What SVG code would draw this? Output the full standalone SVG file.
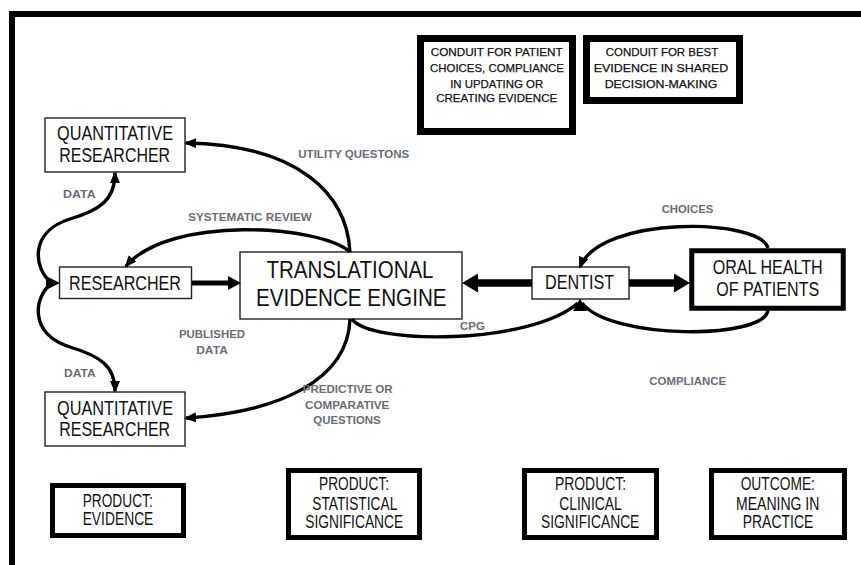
<svg xmlns="http://www.w3.org/2000/svg" width="861" height="565" viewBox="0 0 861 565">
<defs>
<style>
.frame{fill:none;stroke:#000;stroke-width:6}
.thin{fill:#fff;stroke:#222;stroke-width:1.4}
.bold7{fill:#fff;stroke:#000;stroke-width:7}
.bold5{fill:#fff;stroke:#000;stroke-width:5}
.t{font-family:"Liberation Sans Narrow","Arial Narrow","Liberation Sans",Arial,sans-serif;fill:#111;text-anchor:middle}
.sm{stroke:#111;stroke-width:0.25}
.lbl{font-family:"Liberation Sans",Arial,sans-serif;font-weight:bold;font-size:11.5px;fill:#6a6d75;text-anchor:middle}
.cur{fill:none;stroke:#000;stroke-width:3.4}
.thick{fill:none;stroke:#000}
.head{fill:#000;stroke:none}
</style>
<marker id="ah" markerUnits="userSpaceOnUse" viewBox="0 0 12 10" refX="10" refY="5" markerWidth="12" markerHeight="10" orient="auto-start-reverse">
<path d="M0,0 L12,5 L0,10 Z" fill="#000"/>
</marker>
</defs>
<rect width="861" height="565" fill="#fff"/>
<path class="frame" d="M12,565 V14 H861"/>

<g id="conduit-patient">
<rect class="bold7" x="420.5" y="38.5" width="152" height="93"/>
<text class="t sm" font-size="11.6" x="496.7" y="56" textLength="132" lengthAdjust="spacingAndGlyphs">CONDUIT FOR PATIENT</text>
<text class="t sm" font-size="11.6" x="497" y="72" textLength="134" lengthAdjust="spacingAndGlyphs">CHOICES, COMPLIANCE</text>
<text class="t sm" font-size="11.6" x="496.7" y="87.5" textLength="93" lengthAdjust="spacingAndGlyphs">IN UPDATING OR</text>
<text class="t sm" font-size="11.6" x="496.7" y="102" textLength="121" lengthAdjust="spacingAndGlyphs">CREATING EVIDENCE</text>
</g>
<g id="conduit-best">
<rect class="bold7" x="586.5" y="38.5" width="153" height="62"/>
<text class="t sm" font-size="11.6" x="662" y="56" textLength="112.6" lengthAdjust="spacingAndGlyphs">CONDUIT FOR BEST</text>
<text class="t sm" font-size="11.6" x="661" y="72" textLength="134.6" lengthAdjust="spacingAndGlyphs">EVIDENCE IN SHARED</text>
<text class="t sm" font-size="11.6" x="661" y="87.5" textLength="112.6" lengthAdjust="spacingAndGlyphs">DECISION-MAKING</text>
</g>

<g id="quant-top">
<rect class="thin" x="45" y="118" width="140" height="54"/>
<text class="t" font-size="19.5" x="115" y="140" textLength="116" lengthAdjust="spacingAndGlyphs">QUANTITATIVE</text>
<text class="t" font-size="19.5" x="114.7" y="162" textLength="110.7" lengthAdjust="spacingAndGlyphs">RESEARCHER</text>
</g>
<g id="researcher">
<rect class="thin" x="59.5" y="267" width="132" height="31.5"/>
<text class="t" font-size="19.5" x="125" y="289.5" textLength="112" lengthAdjust="spacingAndGlyphs">RESEARCHER</text>
</g>
<g id="quant-bottom">
<rect class="thin" x="45" y="392" width="140" height="54"/>
<text class="t" font-size="19.5" x="115" y="415" textLength="116" lengthAdjust="spacingAndGlyphs">QUANTITATIVE</text>
<text class="t" font-size="19.5" x="114.7" y="436" textLength="110.7" lengthAdjust="spacingAndGlyphs">RESEARCHER</text>
</g>
<g id="engine">
<rect class="thin" x="240" y="252" width="222" height="67"/>
<text class="t" font-size="23" x="350" y="278.3" textLength="167" lengthAdjust="spacingAndGlyphs">TRANSLATIONAL</text>
<text class="t" font-size="23" x="351.3" y="306" textLength="190.7" lengthAdjust="spacingAndGlyphs">EVIDENCE ENGINE</text>
</g>
<g id="dentist">
<rect class="thin" x="532" y="267" width="97" height="32"/>
<text class="t" font-size="19.5" x="579.5" y="289.3" textLength="69" lengthAdjust="spacingAndGlyphs">DENTIST</text>
</g>
<g id="oral-health">
<rect class="bold5" x="691.75" y="250.75" width="151.5" height="57.5" stroke-width="5.5"/>
<text class="t" font-size="19.5" x="767.7" y="274" textLength="110" lengthAdjust="spacingAndGlyphs">ORAL HEALTH</text>
<text class="t" font-size="19.5" x="767.7" y="295.7" textLength="103" lengthAdjust="spacingAndGlyphs">OF PATIENTS</text>
</g>

<g id="product-evidence">
<rect class="bold5" x="52.5" y="485.5" width="131" height="50"/>
<text class="t" font-size="17.5" x="117.7" y="506.5" textLength="70" lengthAdjust="spacingAndGlyphs">PRODUCT:</text>
<text class="t" font-size="17.5" x="118" y="525.3" textLength="70.7" lengthAdjust="spacingAndGlyphs">EVIDENCE</text>
</g>
<g id="product-statistical">
<rect class="bold5" x="288.5" y="470.5" width="131" height="67"/>
<text class="t" font-size="17.5" x="354" y="490.3" textLength="70" lengthAdjust="spacingAndGlyphs">PRODUCT:</text>
<text class="t" font-size="17.5" x="354.8" y="509.6" textLength="85" lengthAdjust="spacingAndGlyphs">STATISTICAL</text>
<text class="t" font-size="17.5" x="354.2" y="528" textLength="98" lengthAdjust="spacingAndGlyphs">SIGNIFICANCE</text>
</g>
<g id="product-clinical">
<rect class="bold5" x="524.5" y="470.5" width="132" height="67"/>
<text class="t" font-size="17.5" x="590.5" y="490.3" textLength="71" lengthAdjust="spacingAndGlyphs">PRODUCT:</text>
<text class="t" font-size="17.5" x="590.5" y="509.6" textLength="62.4" lengthAdjust="spacingAndGlyphs">CLINICAL</text>
<text class="t" font-size="17.5" x="590.2" y="528" textLength="98.3" lengthAdjust="spacingAndGlyphs">SIGNIFICANCE</text>
</g>
<g id="outcome">
<rect class="bold5" x="711.5" y="470.5" width="133" height="67"/>
<text class="t" font-size="17.5" x="777.8" y="490.3" textLength="74.3" lengthAdjust="spacingAndGlyphs">OUTCOME:</text>
<text class="t" font-size="17.5" x="777.7" y="509.6" textLength="83.3" lengthAdjust="spacingAndGlyphs">MEANING IN</text>
<text class="t" font-size="17.5" x="778" y="528" textLength="70.6" lengthAdjust="spacingAndGlyphs">PRACTICE</text>
</g>

<g id="connectors">
<path class="thick" stroke-width="5" d="M192,283 H229"/>
<path class="head" d="M228,276 L241,283 L228,290 Z"/>
<path class="thick" stroke-width="7.5" d="M476,283 H532"/>
<path class="head" d="M462,283 L478,273.5 L478,292.5 Z"/>
<path class="thick" stroke-width="7.5" d="M629,283 H676"/>
<path class="head" d="M690,283 L674,273.5 L674,292.5 Z"/>

<path class="cur" marker-end="url(#ah)" d="M350,252 C347,195 300,145 186,143"/>
<path class="cur" marker-end="url(#ah)" d="M350,252 C320,225 170,215 126,266"/>
<path class="cur" marker-end="url(#ah)" d="M52,283 C34,270 28,232 70,219 C100,210 115,200 115,173"/>
<path class="cur" marker-end="url(#ah)" d="M52,283 C34,296 28,334 70,347 C100,356 115,366 115,391"/>
<path class="head" d="M46,276 L60,283 L46,290 Z"/>
<path class="cur" marker-end="url(#ah)" d="M350,319 C348,380 280,412 186,418"/>
<path class="cur" d="M352,319 C370,345 530,345 578,303"/>
<path class="cur" d="M768,310 C765,340 610,340 582,303"/>
<path class="head" d="M573,311 L580,298.5 L587,311 Z"/>
<path class="cur" marker-end="url(#ah)" d="M768,248 C760,218 600,215 580,267"/>
</g>

<g id="labels">
<text class="lbl" x="353.8" y="158" textLength="111" lengthAdjust="spacingAndGlyphs">UTILITY QUESTONS</text>
<text class="lbl" x="79.3" y="197.5" textLength="32.7" lengthAdjust="spacingAndGlyphs">DATA</text>
<text class="lbl" x="250" y="221" textLength="123.4" lengthAdjust="spacingAndGlyphs">SYSTEMATIC REVIEW</text>
<text class="lbl" x="212" y="338" textLength="66" lengthAdjust="spacingAndGlyphs">PUBLISHED</text>
<text class="lbl" x="212" y="353.5" textLength="31.7" lengthAdjust="spacingAndGlyphs">DATA</text>
<text class="lbl" x="79.8" y="377" textLength="31.7" lengthAdjust="spacingAndGlyphs">DATA</text>
<text class="lbl" x="347.7" y="393.2" textLength="90" lengthAdjust="spacingAndGlyphs">PREDICTIVE OR</text>
<text class="lbl" x="347.2" y="408.5" textLength="84.3" lengthAdjust="spacingAndGlyphs">COMPARATIVE</text>
<text class="lbl" x="347" y="423.5" textLength="67.4" lengthAdjust="spacingAndGlyphs">QUESTIONS</text>
<text class="lbl" x="687.5" y="212.5" textLength="51.6" lengthAdjust="spacingAndGlyphs">CHOICES</text>
<text class="lbl" x="472.5" y="330" textLength="25" lengthAdjust="spacingAndGlyphs">CPG</text>
<text class="lbl" x="687.7" y="385" textLength="76.7" lengthAdjust="spacingAndGlyphs">COMPLIANCE</text>
</g>
</svg>
